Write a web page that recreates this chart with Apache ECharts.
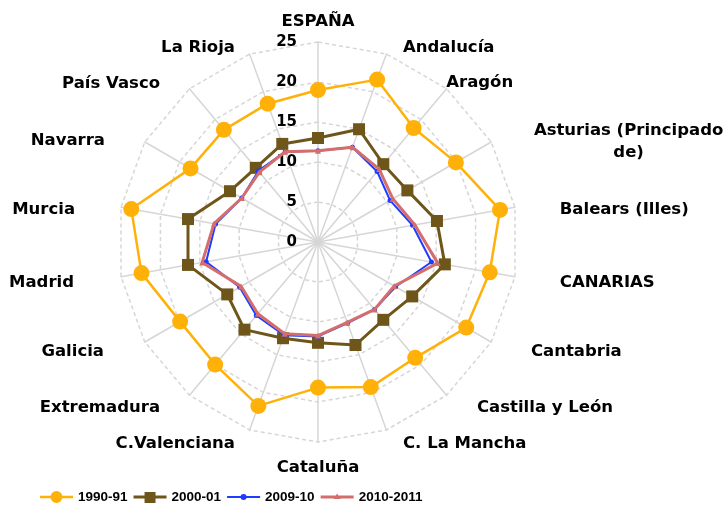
<!DOCTYPE html>
<html>
<head>
<meta charset="utf-8">
<script src="https://cdn.jsdelivr.net/npm/echarts@6/dist/echarts.min.js"></script>
<style>
html,body{margin:0;padding:0;background:#fff;}
#chart{width:724px;height:508px;}
</style>
</head>
<body>
<div id="chart"></div>
<script>
const categories = ['ESPAÑA','Andalucía','Aragón','Asturias (Principado de)','Balears (Illes)','CANARIAS','Cantabria','Castilla y León','C. La Mancha','Cataluña','C.Valenciana','Extremadura','Galicia','Madrid','Murcia','Navarra','País Vasco','La Rioja'];
const seriesNames = ['1990-91','2000-01','2009-10','2010-2011'];
const v1990 = [19.0, 21.6, 18.6, 19.9, 23.1, 21.8, 21.4, 18.9, 19.3, 18.2, 21.8, 20.0, 19.9, 22.4, 23.7, 18.4, 18.3, 18.4];
const v2000 = [13.0, 15.0, 12.7, 12.9, 15.1, 16.1, 13.6, 12.7, 13.7, 12.6, 12.8, 14.3, 13.1, 16.5, 16.5, 12.7, 12.1, 13.05];
const v2009 = [11.4, 12.6, 11.5, 10.4, 12.0, 14.4, 11.2, 11.0, 10.8, 11.8, 12.4, 12.0, 11.3, 14.2, 13.0, 11.0, 11.6, 12.0];
const v2010 = [11.4, 12.6, 11.9, 10.8, 12.3, 15.2, 11.0, 11.0, 10.7, 11.7, 12.2, 11.7, 11.1, 14.7, 13.2, 11.0, 11.4, 12.0];
const radialTicks = [0, 5, 10, 15, 20, 25];

// ---- styling (not data) ----
const center = [318, 242];
const R = 200;
const M = 12; // angle-label margin
const font = "'DejaVu Sans', Verdana, sans-serif";
// per-label nudges [dx, dy] in px, imitating the spreadsheet's label placement
const labelNudge = [[0,0],[12.5,13],[-8,12],[29,27.5],[33,4.3],[33,3.7],[29.4,-4.75],[22.7,-5.2],[12.5,-6],[0,5.25],
                    [-10.5,-6],[-21.7,-5.2],[-30.4,-4.75],[-35.2,3.7],[-34.2,4.3],[-29.4,12.75],[-21.7,12.15],[-10.5,13]];

function padFor(i) {
  const th = i * (360 / categories.length) * Math.PI / 180;
  const px = Math.sin(th) * (R + M) / R, py = -Math.cos(th) * (R + M) / R;
  const ha = Math.abs(px) < 0.3 ? 'center' : (px > 0 ? 'left' : 'right');
  const va = Math.abs(py) < 0.3 ? 'middle' : (py > 0 ? 'top' : 'bottom');
  const [dx, dy] = labelNudge[i];
  let pt = 0, pr = 0, pb = 0, pl = 0;
  if (ha === 'left') pl = dx; else if (ha === 'right') pr = -dx; else pl = 2 * dx;
  if (va === 'top') pt = dy; else if (va === 'bottom') pb = -dy; else pt = 2 * dy;
  return [pt, pr, pb, pl];
}

// ECharts radar runs counter-clockwise; reorder so categories run clockwise
const order = [0].concat(categories.map((c, i) => i).slice(1).reverse());
const reorder = arr => order.map(i => arr[i]);

const bb = 'M0,0L0.01,0Z M33,12L32.99,12Z ';
const icons = [
  'path://' + bb + 'M0,4.75L33,4.75L33,7.25L0,7.25Z M10.5,6A6,6 0 1,1 22.5,6A6,6 0 1,1 10.5,6Z',
  'path://' + bb + 'M0,4.5L33,4.5L33,7.5L0,7.5Z M11,1L22,1L22,12L11,12Z',
  'path://' + bb + 'M0,5L33,5L33,7L0,7Z M13.5,6A3,3 0 1,1 19.5,6A3,3 0 1,1 13.5,6Z',
  'path://' + bb + 'M0,4.5L33,4.5L33,7.5L0,7.5Z M16.5,2.5L20,8L13,8Z'
];

const chart = echarts.init(document.getElementById('chart'));
const mk = (name, data, color, symbol, size, width, z) => ({
  name: name, type: 'radar', radarIndex: 0, z: z,
  symbol: symbol, symbolSize: size,
  lineStyle: {color: color, width: width},
  itemStyle: {color: color},
  data: [{value: reorder(data), name: name}]
});

chart.setOption({
  animation: false,
  legend: {
    left: 35, top: 485,
    itemWidth: 33, itemHeight: 12, itemGap: 6,
    data: seriesNames.map((n, i) => ({name: n, icon: icons[i]})),
    textStyle: {fontFamily: "'Liberation Sans', Arial, sans-serif", fontWeight: 'bold', fontSize: 13.5, color: '#000'}
  },
  radar: {
    center: center, radius: R, startAngle: 90, shape: 'polygon', splitNumber: 5,
    indicator: order.map(i => ({name: categories[i], min: radialTicks[0], max: radialTicks[radialTicks.length-1]})),
    axisName: {show: false},
    splitArea: {show: false},
    splitLine: {lineStyle: {color: '#d6d6d6', width: 1.5, type: [4, 3]}},
    axisLine: {lineStyle: {color: '#d6d6d6', width: 1.5}},
    axisTick: {show: false},
    axisLabel: {show: false}
  },
  polar: {center: center, radius: R},
  angleAxis: {
    type: 'category', startAngle: 90, clockwise: true, boundaryGap: false,
    data: categories.map((c, i) => ({value: c, textStyle: {padding: padFor(i)}})),
    axisLine: {show: false}, axisTick: {show: false}, splitLine: {show: false},
    axisLabel: {
      interval: 0, margin: M, color: '#000', fontFamily: font, fontWeight: 'bold', fontSize: 16.5,
      formatter: v => v === 'Asturias (Principado de)' ? '{c|Asturias (Principado}\n{c|de)}' : v,
      rich: {c: {width: 196, align: 'center', fontFamily: font, fontWeight: 'bold', fontSize: 16.5, color: '#000', lineHeight: 22}}
    }
  },
  radiusAxis: {
    min: radialTicks[0], max: radialTicks[radialTicks.length-1], interval: 5,
    axisLine: {show: false}, axisTick: {show: false}, splitLine: {show: false},
    axisLabel: {margin: 21, color: '#000', fontFamily: font, fontWeight: 'bold', fontSize: 15, padding: [6, 0, 0, 0]}
  },
  series: [
    mk(seriesNames[0], v1990, '#FFB10A', 'circle', 16, 2.5, 2),
    mk(seriesNames[1], v2000, '#6E561B', 'rect', 12, 3, 3),
    mk(seriesNames[2], v2009, '#1E3CFF', 'circle', 5, 2, 4),
    mk(seriesNames[3], v2010, '#D46E6C', 'triangle', 6, 3, 5)
  ]
});
</script>
</body>
</html>
